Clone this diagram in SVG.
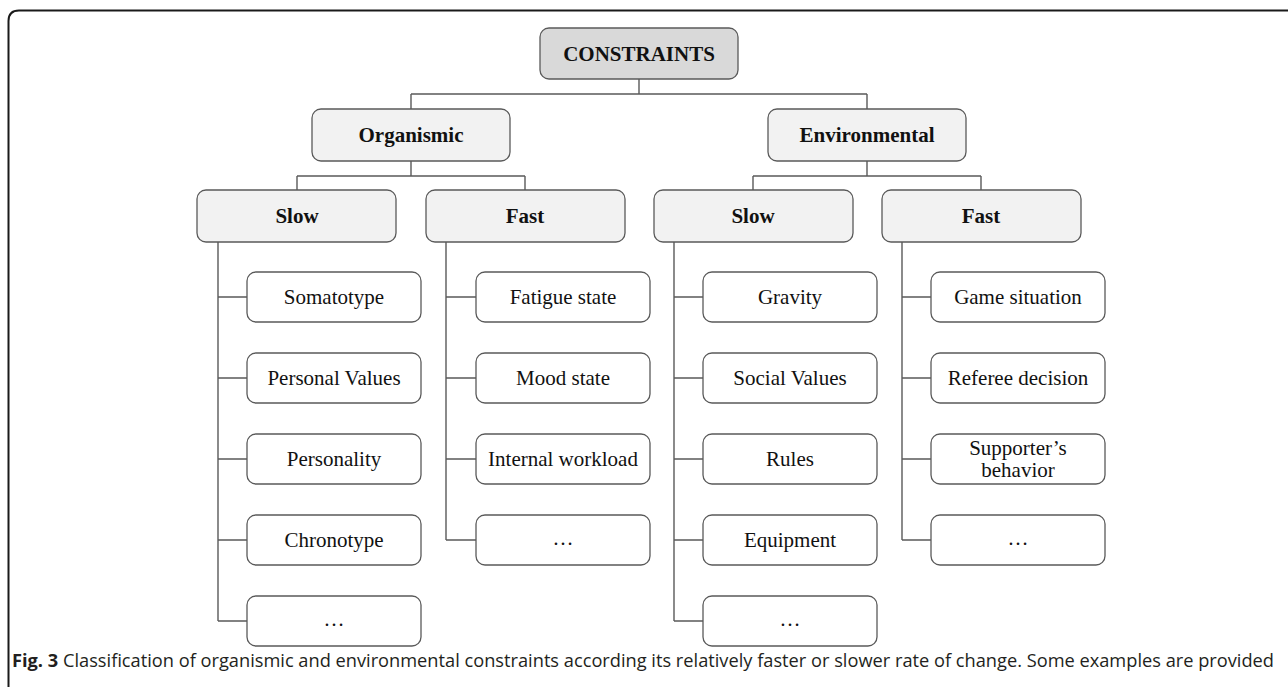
<svg xmlns="http://www.w3.org/2000/svg" width="1288" height="687" viewBox="0 0 1288 687">
<style>
.box{fill:#ffffff;stroke:#5a5a5a;stroke-width:1.3}
.mid{fill:#f2f2f2;stroke:#5a5a5a;stroke-width:1.3}
.top{fill:#d9d9d9;stroke:#5a5a5a;stroke-width:1.3}
.t{font-family:"Liberation Serif","Times New Roman",serif;font-size:21px;fill:#111;text-anchor:middle}
.b{font-weight:bold}
.conn line,.conn path{stroke:#5a5a5a;stroke-width:1.4;fill:none}
.cap{font-family:"Open Sans","Liberation Sans",sans-serif;font-size:18px;fill:#231f20}
</style>
<rect width="1288" height="687" fill="#ffffff"/>
<path d="M8.5,687 V21 Q8.5,10.5 19,10.5 H1288" fill="none" stroke="#1a1a1a" stroke-width="2"/>

<g id="connectors" class="conn">
<path d="M639,79 V94 M411,94 H867 M411,94 V109 M867,94 V109"/>
<path d="M411,161 V176 M297,176 H525 M297,176 V190 M525,176 V190"/>
<path d="M867,161 V176 M753,176 H981 M753,176 V190 M981,176 V190"/>
<path d="M218,242 V621 M218,297 H247 M218,378 H247 M218,459 H247 M218,540 H247 M218,621 H247"/>
<path d="M446,242 V540 M446,297 H476 M446,378 H476 M446,459 H476 M446,540 H476"/>
<path d="M674,242 V621 M674,297 H703 M674,378 H703 M674,459 H703 M674,540 H703 M674,621 H703"/>
<path d="M902,242 V540 M902,297 H931 M902,378 H931 M902,459 H931 M902,540 H931"/>
</g>

<g id="constraints"><rect class="top" x="540" y="28" width="198" height="51" rx="9"/><text class="t b" x="639" y="61">CONSTRAINTS</text></g>
<g id="organismic"><rect class="mid" x="312" y="109" width="198" height="52" rx="9"/><text class="t b" x="411" y="142">Organismic</text></g>
<g id="environmental"><rect class="mid" x="768" y="109" width="198" height="52" rx="9"/><text class="t b" x="867" y="142">Environmental</text></g>

<g id="org-slow"><rect class="mid" x="197" y="190" width="199" height="52" rx="9"/><text class="t b" x="297" y="223">Slow</text></g>
<g id="org-fast"><rect class="mid" x="426" y="190" width="199" height="52" rx="9"/><text class="t b" x="525" y="223">Fast</text></g>
<g id="env-slow"><rect class="mid" x="654" y="190" width="199" height="52" rx="9"/><text class="t b" x="753" y="223">Slow</text></g>
<g id="env-fast"><rect class="mid" x="882" y="190" width="199" height="52" rx="9"/><text class="t b" x="981" y="223">Fast</text></g>

<g id="somatotype"><rect class="box" x="247" y="272" width="174" height="50" rx="9"/><text class="t" x="334" y="304">Somatotype</text></g>
<g id="personal-values"><rect class="box" x="247" y="353" width="174" height="50" rx="9"/><text class="t" x="334" y="385">Personal Values</text></g>
<g id="personality"><rect class="box" x="247" y="434" width="174" height="50" rx="9"/><text class="t" x="334" y="466">Personality</text></g>
<g id="chronotype"><rect class="box" x="247" y="515" width="174" height="50" rx="9"/><text class="t" x="334" y="547">Chronotype</text></g>
<g id="org-slow-more"><rect class="box" x="247" y="596" width="174" height="50" rx="9"/><text class="t" x="334" y="626">…</text></g>

<g id="fatigue"><rect class="box" x="476" y="272" width="174" height="50" rx="9"/><text class="t" x="563" y="304">Fatigue state</text></g>
<g id="mood"><rect class="box" x="476" y="353" width="174" height="50" rx="9"/><text class="t" x="563" y="385">Mood state</text></g>
<g id="workload"><rect class="box" x="476" y="434" width="174" height="50" rx="9"/><text class="t" x="563" y="466">Internal workload</text></g>
<g id="org-fast-more"><rect class="box" x="476" y="515" width="174" height="50" rx="9"/><text class="t" x="563" y="545">…</text></g>

<g id="gravity"><rect class="box" x="703" y="272" width="174" height="50" rx="9"/><text class="t" x="790" y="304">Gravity</text></g>
<g id="social-values"><rect class="box" x="703" y="353" width="174" height="50" rx="9"/><text class="t" x="790" y="385">Social Values</text></g>
<g id="rules"><rect class="box" x="703" y="434" width="174" height="50" rx="9"/><text class="t" x="790" y="466">Rules</text></g>
<g id="equipment"><rect class="box" x="703" y="515" width="174" height="50" rx="9"/><text class="t" x="790" y="547">Equipment</text></g>
<g id="env-slow-more"><rect class="box" x="703" y="596" width="174" height="50" rx="9"/><text class="t" x="790" y="626">…</text></g>

<g id="game"><rect class="box" x="931" y="272" width="174" height="50" rx="9"/><text class="t" x="1018" y="304">Game situation</text></g>
<g id="referee"><rect class="box" x="931" y="353" width="174" height="50" rx="9"/><text class="t" x="1018" y="385">Referee decision</text></g>
<g id="supporter"><rect class="box" x="931" y="434" width="174" height="50" rx="9"/><text class="t" x="1018" y="455">Supporter’s</text><text class="t" x="1018" y="477">behavior</text></g>
<g id="env-fast-more"><rect class="box" x="931" y="515" width="174" height="50" rx="9"/><text class="t" x="1018" y="545">…</text></g>

<text class="cap" x="12" y="667" textLength="1262" lengthAdjust="spacingAndGlyphs"><tspan font-weight="bold">Fig. 3</tspan> Classification of organismic and environmental constraints according its relatively faster or slower rate of change. Some examples are provided</text>
</svg>
